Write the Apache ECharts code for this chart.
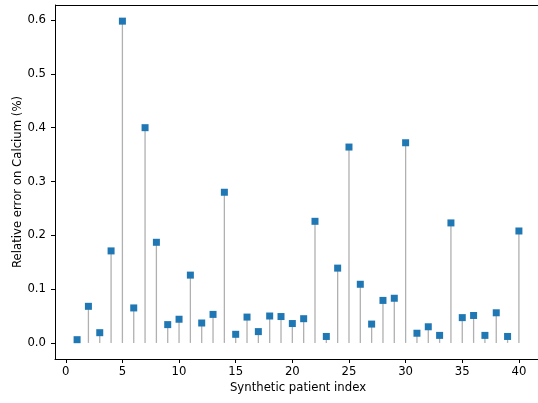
<!DOCTYPE html>
<html><head><meta charset="utf-8">
<script src="https://cdn.jsdelivr.net/npm/echarts@6/dist/echarts.min.js"></script>
<style>html,body{margin:0;padding:0;background:#fff}#c{width:538px;height:403px}</style>
</head><body><div id="c"></div>
<script>
const patientIndex = [1,2,3,4,5,6,7,8,9,10,11,12,13,14,15,16,17,18,19,20,21,22,23,24,25,26,27,28,29,30,31,32,33,34,35,36,37,38,39,40];
const relativeError = [0.006,0.068,0.019,0.171,0.598,0.065,0.400,0.187,0.034,0.044,0.126,0.037,0.053,0.280,0.016,0.048,0.021,0.050,0.049,0.036,0.045,0.226,0.012,0.139,0.364,0.109,0.035,0.079,0.083,0.372,0.018,0.030,0.014,0.223,0.047,0.051,0.014,0.056,0.012,0.208];
const xTicks = [0,5,10,15,20,25,30,35,40];
const yTicks = [0.0,0.1,0.2,0.3,0.4,0.5,0.6];

const points = patientIndex.map((x,i)=>[x, relativeError[i]]);
const font = 'DejaVu Sans';
const chart = echarts.init(document.getElementById('c'), null, {renderer:'canvas'});
chart.setOption({
  animation:false,
  grid:{left:55,right:-3,top:5,bottom:44,containLabel:false,outerBoundsMode:'none',show:false},
  xAxis:{type:'value',min:-0.95,max:41.95,
    name:'Synthetic patient index',nameLocation:'middle',nameGap:23,nameMoveOverlap:false,
    nameTextStyle:{fontFamily:font,fontSize:11.7,color:'#000'},
    axisLine:{onZero:false,lineStyle:{color:'#000',width:1}},
    axisTick:{show:true,length:4,lineStyle:{color:'#000'},customValues:xTicks},
    axisLabel:{fontFamily:font,fontSize:11.7,color:'#000',margin:7,customValues:xTicks,formatter:v=>String(v)},
    splitLine:{show:false}},
  yAxis:{type:'value',min:-0.0299,max:0.628,
    name:'Relative error on Calcium (%)',nameLocation:'middle',nameGap:31,nameMoveOverlap:false,
    nameTextStyle:{fontFamily:font,fontSize:11.7,color:'#000'},
    axisLine:{show:true,onZero:false,lineStyle:{color:'#000',width:1}},
    axisTick:{show:true,length:4,lineStyle:{color:'#000'},customValues:yTicks},
    axisLabel:{fontFamily:font,fontSize:11.7,color:'#000',margin:9,customValues:yTicks,formatter:v=>v.toFixed(1)},
    splitLine:{show:false}},
  graphic:[{type:'line',shape:{x1:55,y1:5.5,x2:538,y2:5.5},style:{stroke:'#000',lineWidth:1},silent:true}],
  series:[
    {type:'custom',data:points,renderItem:(params,api)=>{
      const p0 = api.coord([api.value(0),0]);
      const p1 = api.coord([api.value(0),api.value(1)]);
      return {type:'line',shape:{x1:p0[0],y1:p0[1],x2:p1[0],y2:p1[1]},style:{stroke:'#b0b0b0',lineWidth:1.3}};
    },z:1},
    {type:'scatter',data:points,symbol:'rect',symbolSize:7,itemStyle:{color:'#1f77b4',opacity:1},z:2}
  ]
});
</script></body></html>
